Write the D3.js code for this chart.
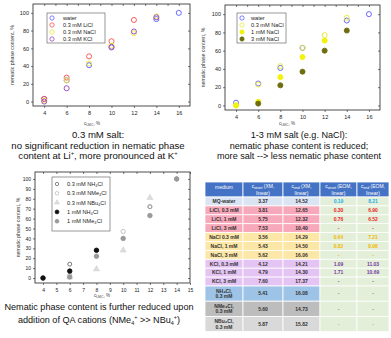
<!DOCTYPE html>
<html><head><meta charset="utf-8">
<script src="https://cdn.jsdelivr.net/npm/d3@7"></script>
<style>
body{margin:0;background:#fff}
svg{display:block;font-family:"Liberation Sans",Arial,sans-serif}
</style>
</head><body>
<svg id="fig" width="391" height="338"></svg>
<script>
// ---- Panel A: 0.3 mM salts (nematic phase content vs LMC concentration) ----
const aWater = [[4,3],[6,24],[8,41],[10,62],[14,93],[16,100]];
const aLiCl  = [[4,3],[6,27],[8,51],[10,68],[12,92]];
const aNaCl  = [[4,1],[6,24],[8,43],[10,63],[12,77],[14,96]];
const aKCl   = [[4,0],[6,15],[10,61],[12,79],[14,95]];
const aNames = ["water","0.3 mM LiCl","0.3 mM NaCl","0.3 mM KCl"];

// ---- Panel B: NaCl concentration series ----
const bWater  = [[4,3],[6,24],[8,41],[10,63],[14,93],[16,100]];
const bNa03   = [[4,0],[6,23],[8,43],[10,63],[12,77],[14,96]];
const bNa1    = [[4,0],[6,4],[8,31],[10,53],[12,71]];
const bNa3    = [[6,2],[8,22],[10,37],[12,60],[14,82]];
const bNames  = ["water","0.3 mM NaCl","1 mM NaCl","3 mM NaCl"];

// ---- Panel C: ammonium / quaternary ammonium chlorides ----
const cNH4_03  = [[4,0],[6,14],[12,72],[14,100]];
const cNMe4_03 = [[6,3],[10,47],[12,72]];
const cNBu4_03 = [[6,1],[8,9],[10,28],[12,81]];
const cNH4_1   = [[4,0],[6,7],[8,28]];
const cNMe4_1  = [[6,1],[8,22],[10,40],[12,63],[14,100]];
const cNames   = ["0.3 mM NH\u2084Cl","0.3 mM NMe\u2084Cl","0.3 mM NBu\u2084Cl","1 mM NH\u2084Cl","1 mM NMe\u2084Cl"];

// ---- Table of onset / end concentrations ----
const tMedium = ["MQ-water","LiCl, 0.3 mM","LiCl, 1 mM","LiCl, 3 mM","NaCl 0.3 mM","NaCl, 1 mM","NaCl, 3 mM",
                 "KCl, 0.3 mM","KCl, 1 mM","KCl, 3 mM","NH\u2084Cl,|0.3 mM","NMe\u2084Cl,|0.3 mM","NBu\u2084Cl,|0.3 mM"];
const tOnsetXM = ["3.37","3.81","5.75","7.53","3.56","5.43","5.62","4.12","4.79","7.60","5.41","5.60","5.87"];
const tEndXM   = ["14.52","12.65","12.32","10.40","14.29","14.50","16.06","14.21","14.30","17.37","16.08","14.73","15.82"];
const tOnsetEOM= ["0.19","0.30","0.76","-","0.64","0.82","-","1.09","1.71","-","-","-","-"];
const tEndEOM  = ["8.21","6.90","6.52","-","7.21","8.98","-","11.03","10.69","-","-","-","-"];

const svg = d3.select("#fig");

function scatterPanel(cfg){
  const g = svg.append("g");
  const x = d3.scaleLinear().domain(cfg.xd).range([cfg.l, cfg.r]);
  const y = d3.scaleLinear().domain(cfg.yd).range([cfg.b, cfg.t]);
  g.append("rect").attr("x",cfg.l).attr("y",cfg.t).attr("width",cfg.r-cfg.l).attr("height",cfg.b-cfg.t)
    .attr("fill","none").attr("stroke","#222").attr("stroke-width",0.8);
  const fs = cfg.tickFont;
  g.append("g").attr("transform",`translate(0,${cfg.b})`)
    .call(d3.axisBottom(x).tickValues(cfg.xt).tickSize(2).tickSizeOuter(0).tickPadding(3));
  g.append("g").attr("transform",`translate(${cfg.l},0)`)
    .call(d3.axisLeft(y).tickValues(cfg.yt).tickSize(2).tickSizeOuter(0).tickPadding(2));
  // inward ticks on top and right edges of the frame
  g.append("g").attr("transform",`translate(0,${cfg.t})`)
    .call(d3.axisBottom(x).tickValues(cfg.xminor).tickSize(2).tickSizeOuter(0).tickFormat(""));
  g.append("g").attr("transform",`translate(${cfg.r},0)`)
    .call(d3.axisLeft(y).tickValues(cfg.yt).tickSize(2).tickSizeOuter(0).tickFormat(""));
  g.selectAll(".domain").remove();
  g.selectAll(".tick line").attr("stroke","#222").attr("stroke-width",0.6);
  g.selectAll(".tick text").attr("font-size",fs).attr("fill","#222").attr("font-family","Liberation Sans, Arial, sans-serif");
  g.append("text").attr("transform",`translate(${cfg.ytx},${(cfg.t+cfg.b)/2}) rotate(-90)`)
    .attr("text-anchor","middle").attr("font-size",5.2).attr("fill","#333").text("nematic phase content, %");
  const xt = g.append("text").attr("x",cfg.xtx).attr("y",cfg.xty).attr("text-anchor","middle").attr("font-size",4.6).attr("fill","#444");
  xt.append("tspan").text("c");
  xt.append("tspan").attr("font-size",3.4).attr("dy",1.2).text("LMC");
  xt.append("tspan").attr("dy",-1.2).text(", %");
  const sym = s => d3.symbol(s.shape==="tri"?d3.symbolTriangle:d3.symbolCircle, s.area)();
  cfg.series.forEach(s=>{
    g.append("g").selectAll("path").data(s.data).join("path")
      .attr("transform",d=>`translate(${x(d[0])},${y(d[1])})`)
      .attr("d",sym(s))
      .attr("fill",s.fill).attr("stroke",s.stroke).attr("stroke-width",s.sw||0.9);
  });
  const L = cfg.legend;
  g.append("rect").attr("x",L.x).attr("y",L.y).attr("width",L.w).attr("height",L.h)
    .attr("fill","#fff").attr("stroke","#555").attr("stroke-width",0.6);
  cfg.series.forEach((s,i)=>{
    const yy = L.y + L.first + i*L.step;
    g.append("path").attr("transform",`translate(${L.x+L.mx},${yy}) scale(0.85)`)
      .attr("d",sym(s))
      .attr("fill",s.fill).attr("stroke",s.stroke).attr("stroke-width",s.sw||0.9);
    g.append("text").attr("x",L.x+L.tx).attr("y",yy+2).attr("font-size",L.fs).attr("fill","#222").text(cfg.names[i]);
  });
  return {x,y};
}

scatterPanel({
  l:33,r:190,t:4,b:106, xd:[3,17], yd:[-5,110],
  xt:[4,6,8,10,12,14,16], yt:[0,20,40,60,80,100], xminor:d3.range(4,17,1), tickFont:5.5,
  ytx:14, xtx:92, xty:125,
  names:aNames,
  series:[
    {data:aWater, fill:"none", stroke:"#5a5aff", area:20},
    {data:aLiCl,  fill:"none", stroke:"#ff4b4b", area:20},
    {data:aNaCl,  fill:"none", stroke:"#e8e830", area:20},
    {data:aKCl,   fill:"none", stroke:"#9a3fc0", area:20}
  ],
  legend:{x:47,y:13,w:58,h:30,first:5,step:7,mx:5,tx:16,fs:5.6}
});

scatterPanel({
  l:225,r:380,t:5,b:110, xd:[3,17], yd:[-5,110],
  xt:[4,6,8,10,12,14,16], yt:[0,20,40,60,80,100], xminor:d3.range(4,17,1), tickFont:5.5,
  ytx:205, xtx:287, xty:125,
  names:bNames,
  series:[
    {data:bWater, fill:"none", stroke:"#5a5aff", area:20},
    {data:bNa03,  fill:"none", stroke:"#e8e830", area:20},
    {data:bNa1,   fill:"#f2f20a", stroke:"#f2f20a", area:20},
    {data:bNa3,   fill:"#6e6e10", stroke:"#6e6e10", area:20}
  ],
  legend:{x:237,y:13,w:49,h:30,first:5,step:7,mx:5,tx:14,fs:5.6}
});

scatterPanel({
  l:35,r:190,t:172,b:283, xd:[3.4,15], yd:[-5,107],
  xt:d3.range(4,16,1), yt:d3.range(0,101,10), xminor:d3.range(4,16,1), tickFont:5,
  ytx:20, xtx:102, xty:297,
  names:cNames,
  series:[
    {data:cNH4_03,  fill:"none", stroke:"#555", area:12, sw:0.8},
    {data:cNMe4_03, fill:"none", stroke:"#b5b5b5", area:14, sw:0.8},
    {data:cNBu4_03, fill:"#dcdcdc", stroke:"#cfcfcf", area:16, shape:"tri", sw:0.5},
    {data:cNH4_1,   fill:"#111", stroke:"#111", area:16},
    {data:cNMe4_1,  fill:"#9a9a9a", stroke:"#9a9a9a", area:16}
  ],
  legend:{x:52,y:177,w:58,h:54,first:7,step:9.3,mx:5,tx:15,fs:5.6}
});

// Captions: each segment may be shifted (dy) and shrunk (small) for super/subscripts
function caption(lines, cx, y0, step, fs){
  lines.forEach((ln,i)=>{
    const t = svg.append("text").attr("x",cx).attr("y",y0+i*step).attr("text-anchor","middle")
      .attr("font-size",fs).attr("fill","#111");
    ln.forEach(seg=>{
      const ts = t.append("tspan").text(seg.t);
      if(seg.small) ts.attr("font-size",fs*0.6);
      if(seg.dy) ts.attr("dy",seg.dy*fs);
    });
  });
}
caption([
  [{t:"0.3 mM salt:"}],
  [{t:"no significant reduction in nematic phase"}],
  [{t:"content at Li"},{t:"+",small:1,dy:-0.4},{t:", more pronounced at K",dy:0.4},{t:"+",small:1,dy:-0.4}]
], 98, 138, 10.5, 9.6);
caption([
  [{t:"1-3 mM salt (e.g. NaCl):"}],
  [{t:"nematic phase content is reduced;"}],
  [{t:"more salt --> less nematic phase content"}]
], 299, 138, 10.5, 9.1);
caption([
  [{t:"Nematic phase content is further reduced upon"}],
  [{t:"addition of QA cations (NMe"},{t:"4",small:1,dy:0.25},{t:"+",small:1,dy:-0.65},
   {t:" >> NBu",dy:0.4},{t:"4",small:1,dy:0.25},{t:"+",small:1,dy:-0.65},{t:")",dy:0.4}]
], 99, 310, 12.5, 9.1);

// Table
const cols = [205,243,283,320,357,389];
const headerTop = 182, headerH = 15;
const rowH = tMedium.map(m => m.includes("|") ? 15.2 : 8.9);
const rowY = []; { let yy = headerTop+headerH; rowH.forEach(h=>{ rowY.push(yy); yy+=h; }); }
function groupOf(m){
  if(m.startsWith("MQ")) return "mq";
  if(m.startsWith("LiCl")) return "li";
  if(m.startsWith("NaCl")) return "na";
  if(m.startsWith("KCl")) return "k";
  if(m.startsWith("NH")) return "nh4";
  if(m.startsWith("NMe")) return "nme4";
  return "nbu4";
}
const rowFill = {mq:"#dbe4f3",li:"#f7a9bb",na:"#fde7a6",k:"#e4c4f2",nh4:"#9dc3e6",nme4:"#bdbdbd",nbu4:"#d9d9d9"};
const valColor = {mq:"#1ab0e8",li:"#ee1c25",na:"#f5b800",k:"#7a3aa6",nh4:"#5a7fb8",nme4:"#5a7fb8",nbu4:"#9aa8b8"};

const tg = svg.append("g").attr("font-size",5).attr("font-weight","bold");
const heads = [["medium"],["c|onset|(XM,","linear)"],["c|end|(XM,","linear)"],["c|onset|(EOM,","linear)"],["c|end|(EOM,","linear)"]];
heads.forEach((h,i)=>{
  tg.append("rect").attr("x",cols[i]).attr("y",headerTop).attr("width",cols[i+1]-cols[i]).attr("height",headerH)
    .attr("fill","#4472c4").attr("stroke","#fff").attr("stroke-width",0.8);
  const cx = (cols[i]+cols[i+1])/2;
  if(h.length===1){
    tg.append("text").attr("x",cx).attr("y",headerTop+6.5).attr("text-anchor","middle").attr("fill","#fff").attr("font-weight","normal").text(h[0]);
  } else {
    const p = h[0].split("|");
    const t1 = tg.append("text").attr("x",cx).attr("y",headerTop+6.2).attr("text-anchor","middle").attr("fill","#fff").attr("font-weight","normal");
    t1.append("tspan").text(p[0]);
    t1.append("tspan").attr("font-size",3.4).attr("dy",1).text(p[1]);
    t1.append("tspan").attr("dy",-1).text(" "+p[2]);
    tg.append("text").attr("x",cx).attr("y",headerTop+12.5).attr("text-anchor","middle").attr("fill","#fff").attr("font-weight","normal").text(h[1]);
  }
});
tMedium.forEach((m,r)=>{
  const gr = groupOf(m), y0 = rowY[r], h = rowH[r];
  const cells = [m, tOnsetXM[r], tEndXM[r], tOnsetEOM[r], tEndEOM[r]];
  cells.forEach((v,i)=>{
    tg.append("rect").attr("x",cols[i]).attr("y",y0).attr("width",cols[i+1]-cols[i]).attr("height",h)
      .attr("fill", i>=3 ? "#e3efd9" : rowFill[gr]).attr("stroke","#fff").attr("stroke-width",0.8);
    const cx = (cols[i]+cols[i+1])/2;
    const parts = v.split("|");
    parts.forEach((p,k)=>{
      tg.append("text").attr("x",cx).attr("y", y0 + h/2 + 1.8 + (k - (parts.length-1)/2)*5.6)
        .attr("text-anchor","middle").attr("fill", i>=3 ? valColor[gr] : "#333").text(p);
    });
  });
});
</script>
</body></html>
